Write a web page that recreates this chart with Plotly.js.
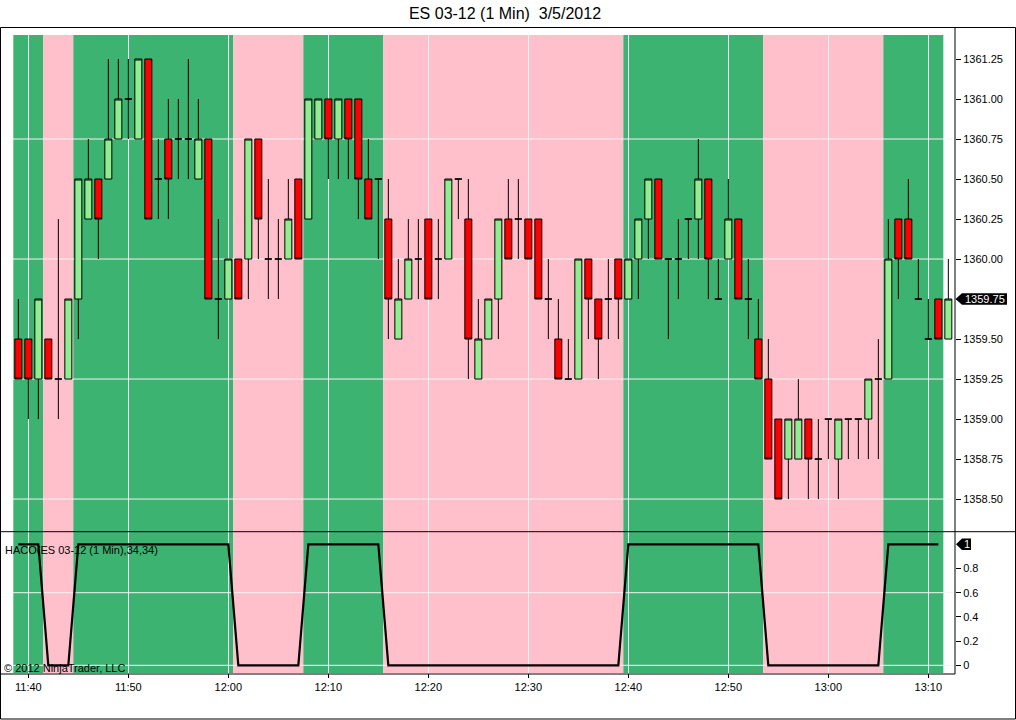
<!DOCTYPE html>
<html>
<head>
<meta charset="utf-8">
<script src="https://cdn.plot.ly/plotly-3.0.1.min.js"></script>
<style>html,body{margin:0;padding:0;background:#fff;}</style>
</head>
<body>
<div id="chart" style="width:1016px;height:720px;"></div>
<script>
// ---------- DATA ----------
const times = [
  '11:39','11:40','11:41','11:42','11:43','11:44','11:45','11:46','11:47','11:48','11:49',
  '11:50','11:51','11:52','11:53','11:54','11:55','11:56','11:57','11:58','11:59',
  '12:00','12:01','12:02','12:03','12:04','12:05','12:06','12:07','12:08','12:09',
  '12:10','12:11','12:12','12:13','12:14','12:15','12:16','12:17','12:18','12:19',
  '12:20','12:21','12:22','12:23','12:24','12:25','12:26','12:27','12:28','12:29',
  '12:30','12:31','12:32','12:33','12:34','12:35','12:36','12:37','12:38','12:39',
  '12:40','12:41','12:42','12:43','12:44','12:45','12:46','12:47','12:48','12:49',
  '12:50','12:51','12:52','12:53','12:54','12:55','12:56','12:57','12:58','12:59',
  '13:00','13:01','13:02','13:03','13:04','13:05','13:06','13:07','13:08','13:09',
  '13:10','13:11','13:12'
];
const opens = [
  1359.50,1359.50,1359.25,1359.50,1359.25,1359.25,1359.75,1360.25,1360.50,1360.50,1360.75,
  1361.00,1360.75,1361.25,1360.50,1360.75,1360.75,1360.75,1360.50,1360.75,1359.75,
  1359.75,1360.00,1360.00,1360.75,1360.00,1360.00,1360.00,1360.50,1360.25,1360.75,
  1361.00,1360.75,1361.00,1361.00,1360.50,1360.50,1360.25,1359.50,1359.75,1360.00,
  1360.25,1360.00,1360.00,1360.50,1360.25,1359.25,1359.50,1359.75,1360.25,1360.25,
  1360.25,1360.25,1359.75,1359.50,1359.25,1359.25,1360.00,1359.75,1359.75,1360.00,
  1359.75,1360.00,1360.25,1360.50,1360.00,1360.00,1360.25,1360.25,1360.50,1359.75,
  1360.00,1360.25,1359.75,1359.50,1359.25,1359.00,1358.75,1358.75,1359.00,1358.75,
  1359.00,1358.75,1359.00,1359.00,1359.00,1359.25,1359.25,1360.25,1360.25,1359.75,
  1359.50,1359.75,1359.50
];
const highs = [
  1359.75,1359.50,1359.75,1359.50,1360.25,1359.75,1360.50,1360.75,1360.50,1361.25,1361.25,
  1361.25,1361.25,1361.25,1360.75,1361.00,1361.00,1361.25,1361.00,1360.75,1360.25,
  1360.00,1360.00,1360.75,1360.75,1360.50,1360.25,1360.50,1360.50,1361.00,1361.00,
  1361.00,1361.00,1361.00,1361.00,1360.75,1360.50,1360.50,1360.00,1360.25,1360.25,
  1360.25,1360.25,1360.50,1360.50,1360.50,1359.75,1359.75,1360.25,1360.50,1360.50,
  1360.25,1360.25,1360.00,1359.75,1359.50,1360.00,1360.00,1359.75,1360.00,1360.00,
  1360.00,1360.25,1360.50,1360.50,1360.00,1360.25,1360.25,1360.75,1360.50,1360.00,
  1360.50,1360.25,1360.00,1359.75,1359.50,1359.00,1359.00,1359.25,1359.00,1359.00,
  1359.00,1359.00,1359.00,1359.00,1359.25,1359.50,1360.25,1360.25,1360.50,1360.00,
  1359.75,1359.75,1360.00
];
const lows = [
  1359.25,1359.00,1359.00,1359.25,1359.00,1359.25,1359.50,1360.25,1360.00,1360.50,1360.75,
  1360.75,1360.75,1360.25,1360.25,1360.25,1360.50,1360.50,1360.50,1359.75,1359.50,
  1359.75,1359.75,1359.75,1360.00,1359.75,1359.75,1360.00,1360.00,1360.25,1360.75,
  1360.50,1360.50,1360.50,1360.25,1360.25,1360.00,1359.50,1359.50,1359.75,1359.75,
  1359.75,1359.75,1360.00,1360.25,1359.25,1359.25,1359.50,1359.50,1360.00,1360.00,
  1360.00,1359.75,1359.50,1359.25,1359.25,1359.25,1359.50,1359.25,1359.50,1359.50,
  1359.75,1359.75,1360.00,1360.00,1359.50,1359.75,1360.00,1360.00,1359.75,1359.75,
  1360.00,1359.75,1359.50,1359.25,1358.75,1358.50,1358.50,1358.75,1358.50,1358.50,
  1358.75,1358.50,1358.75,1358.75,1358.75,1358.75,1359.25,1359.75,1360.00,1359.75,
  1359.50,1359.50,1359.50
];
const closes = [
  1359.25,1359.25,1359.75,1359.25,1359.25,1359.75,1360.50,1360.50,1360.25,1360.75,1361.00,
  1361.00,1361.25,1360.25,1360.50,1360.50,1360.75,1360.75,1360.75,1359.75,1359.75,
  1360.00,1359.75,1360.75,1360.25,1360.00,1360.00,1360.25,1360.00,1361.00,1361.00,
  1360.75,1361.00,1360.75,1360.50,1360.25,1360.50,1359.75,1359.75,1360.00,1360.00,
  1359.75,1360.00,1360.50,1360.50,1359.50,1359.50,1359.75,1360.25,1360.00,1360.25,
  1360.00,1359.75,1359.75,1359.25,1359.25,1360.00,1359.75,1359.50,1359.75,1359.75,
  1360.00,1360.25,1360.50,1360.00,1360.00,1360.00,1360.25,1360.50,1360.00,1359.75,
  1360.25,1359.75,1359.75,1359.25,1358.75,1358.50,1359.00,1359.00,1358.75,1358.75,
  1359.00,1359.00,1359.00,1359.00,1359.25,1359.25,1360.00,1360.00,1360.00,1359.75,
  1359.50,1359.50,1359.75
];
const haco = [
  1,1,1,0,0,0,1,1,1,1,1,
  1,1,1,1,1,1,1,1,1,1,
  1,0,0,0,0,0,0,0,1,1,
  1,1,1,1,1,1,0,0,0,0,
  0,0,0,0,0,0,0,0,0,0,
  0,0,0,0,0,0,0,0,0,0,
  1,1,1,1,1,1,1,1,1,1,
  1,1,1,1,0,0,0,0,0,0,
  0,0,0,0,0,0,1,1,1,1,
  1,1,null
];
const xTickLabels = ['11:40','11:50','12:00','12:10','12:20','12:30','12:40','12:50','13:00','13:10'];
const priceTickVals = [1358.50, 1358.75, 1359.00, 1359.25, 1359.50, 1359.75, 1360.00,
                       1360.25, 1360.50, 1360.75, 1361.00, 1361.25];
const priceGridVals = [1358.50, 1359.25, 1360.00, 1360.75];
const hacoTickVals = [0, 0.2, 0.4, 0.6, 0.8];
const hacoTickText = ['0', '0.2', '0.4', '0.6', '0.8'];
const hacoGridVals = [0, 0.6];
const titleText = 'ES 03-12 (1 Min)\u00a0 3/5/2012';
const hacoLabel = 'HACO(ES 03-12 (1 Min),34,34)';
const copyright = '\u00a9 2012 NinjaTrader, LLC';

// ---------- HELPERS ----------
function tms(t, sec) {
  const p = t.split(':').map(Number);
  return Date.UTC(2012, 2, 5, p[0], p[1], sec || 0);
}
const W = 1016, H = 720;
const M = {l: 13, r: 61, t: 35, b: 47};
const PW = W - M.l - M.r, PH = H - M.t - M.b;
const px2x = px => (px - M.l) / PW;
const py2y = py => (H - M.b - py) / PH;

const GREEN = '#3CB371', PINK = '#FFC0CB';
const GRID = '#f3f3f3';
const FONT = 'Liberation Sans, Arial, sans-serif';

const xs = times.map(t => tms(t));
const splitY = py2y(531.7);

const lastClose = closes[closes.length - 1];
let lastHaco = null;
for (let i = haco.length - 1; i >= 0; i--) { if (haco[i] !== null) { lastHaco = haco[i]; break; } }

// ---------- SHAPES ----------
const shapes = [];
let runStart = null, runVal = null;
for (let i = 0; i <= haco.length; i++) {
  const v = i < haco.length ? haco[i] : null;
  if (v !== runVal) {
    if (runVal !== null) {
      shapes.push({type: 'rect', xref: 'x', yref: 'paper', layer: 'below',
        x0: xs[runStart] - 30000, x1: xs[i - 1] + 30000, y0: 0, y1: 1,
        fillcolor: runVal === 1 ? GREEN : PINK, line: {width: 0}});
    }
    runStart = i; runVal = v;
  }
}
priceGridVals.forEach(v => shapes.push({type: 'line', xref: 'paper', yref: 'y', layer: 'below',
  x0: 0, x1: 1, y0: v, y1: v, line: {color: GRID, width: 1}}));
hacoGridVals.forEach(v => shapes.push({type: 'line', xref: 'paper', yref: 'y2', layer: 'below',
  x0: 0, x1: 1, y0: v, y1: v, line: {color: GRID, width: 1}}));

const fx0 = px2x(0.5), fx1 = px2x(1015.5), fy0 = py2y(719), fy1 = py2y(27.5);
shapes.push({type: 'rect', xref: 'paper', yref: 'paper', layer: 'above',
  x0: fx0, x1: fx1, y0: fy0, y1: fy1, line: {color: '#000', width: 1}});
shapes.push({type: 'line', xref: 'paper', yref: 'paper', layer: 'above',
  x0: fx0, x1: fx1, y0: splitY, y1: splitY, line: {color: '#000', width: 1}});
shapes.push({type: 'line', xref: 'paper', yref: 'paper', layer: 'above',
  x0: fx0, x1: 1, y0: py2y(674), y1: py2y(674), line: {color: '#000', width: 1}});
shapes.push({type: 'line', xref: 'paper', yref: 'paper', layer: 'above',
  x0: 1, x1: 1, y0: py2y(674), y1: fy1, line: {color: '#000', width: 1}});

function markerPath(tipPx, basePx, rightPx, yv, dy) {
  const a = px2x(tipPx), b = px2x(basePx), c = px2x(rightPx);
  return `M ${a} ${yv} L ${b} ${yv + dy} L ${c} ${yv + dy} L ${c} ${yv - dy} L ${b} ${yv - dy} Z`;
}
shapes.push({type: 'path', xref: 'paper', yref: 'y', layer: 'above',
  path: markerPath(955.5, 962, 1007, lastClose, 5.8 / 160), fillcolor: '#000', line: {width: 0}});
shapes.push({type: 'path', xref: 'paper', yref: 'y2', layer: 'above',
  path: markerPath(956, 962, 971, lastHaco, 5.8 / 121), fillcolor: '#000', line: {width: 0}});

// ---------- TRACES ----------
const candles = {
  type: 'candlestick', x: xs, open: opens, high: highs, low: lows, close: closes,
  xaxis: 'x', yaxis: 'y', whiskerwidth: 0,
  increasing: {fillcolor: '#90EE90', line: {color: '#000', width: 1}},
  decreasing: {fillcolor: '#FF0000', line: {color: '#000', width: 1}},
  hoverinfo: 'skip', showlegend: false
};
const hacoLine = {
  type: 'scatter', mode: 'lines', x: xs, y: haco, xaxis: 'x', yaxis: 'y2',
  line: {color: '#000', width: 2.2}, hoverinfo: 'skip', showlegend: false
};

// ---------- LAYOUT ----------
const layout = {
  width: W, height: H,
  margin: {l: M.l, r: M.r, t: M.t, b: M.b, pad: 0},
  paper_bgcolor: '#fff', plot_bgcolor: '#fff',
  font: {family: FONT, size: 11, color: '#000'},
  title: {text: titleText, font: {family: FONT, size: 16, color: '#000'},
    xref: 'container', yref: 'container', x: 505 / W, y: 1 - 13 / H,
    xanchor: 'center', yanchor: 'middle'},
  boxgap: 0.3, boxgroupgap: 0,
  showlegend: false,
  xaxis: {
    type: 'date', anchor: 'y2',
    range: [tms('11:38', 28), tms('13:12', 40)],
    tickmode: 'array', tickvals: xTickLabels.map(t => tms(t)), ticktext: xTickLabels,
    ticks: 'outside', ticklen: 4, tickcolor: '#000', tickwidth: 1,
    showgrid: true, gridcolor: GRID, gridwidth: 1,
    showline: false, zeroline: false,
    rangeslider: {visible: false}, fixedrange: true,
    tickfont: {family: FONT, size: 11, color: '#000'}
  },
  yaxis: {
    domain: [splitY, 1], anchor: 'x', side: 'right',
    range: [1358.296, 1361.40],
    tickmode: 'array', tickvals: priceTickVals,
    ticktext: priceTickVals.map(v => v === lastClose ? '' : v.toFixed(2)),
    ticks: 'outside', ticklen: 5, tickcolor: '#000', tickwidth: 1,
    showgrid: false, zeroline: false, showline: false, fixedrange: true,
    tickfont: {family: FONT, size: 11, color: '#000'}
  },
  yaxis2: {
    domain: [0, splitY], anchor: 'x', side: 'right',
    range: [-0.0636, 1.104],
    tickmode: 'array', tickvals: hacoTickVals, ticktext: hacoTickText,
    ticks: 'outside', ticklen: 5, tickcolor: '#000', tickwidth: 1,
    showgrid: false, zeroline: false, showline: false, fixedrange: true,
    tickfont: {family: FONT, size: 11, color: '#000'}
  },
  shapes: shapes,
  annotations: [
    {text: hacoLabel, xref: 'paper', yref: 'paper', x: px2x(3), y: py2y(549.5),
      xanchor: 'left', yanchor: 'middle', showarrow: false,
      font: {family: FONT, size: 11, color: '#000'}},
    {text: copyright, xref: 'paper', yref: 'paper', x: px2x(2), y: py2y(667.5),
      xanchor: 'left', yanchor: 'middle', showarrow: false,
      font: {family: FONT, size: 11, color: '#000'}},
    {text: lastClose.toFixed(2), xref: 'paper', yref: 'y', x: px2x(963), y: lastClose,
      xanchor: 'left', yanchor: 'middle', showarrow: false,
      font: {family: FONT, size: 11, color: '#fff'}},
    {text: String(lastHaco), xref: 'paper', yref: 'y2', x: px2x(966.5), y: lastHaco,
      xanchor: 'center', yanchor: 'middle', showarrow: false,
      font: {family: FONT, size: 11, color: '#fff'}}
  ]
};

Plotly.newPlot('chart', [candles, hacoLine], layout, {staticPlot: true, displayModeBar: false});
</script>
</body>
</html>
